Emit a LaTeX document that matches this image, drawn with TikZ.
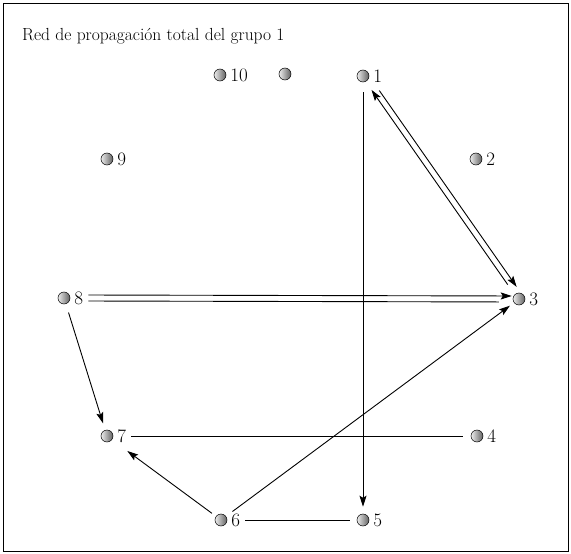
\documentclass[tikz,border=0pt]{standalone}
\usetikzlibrary{arrows.meta,positioning,calc}

\begin{document}
\begin{tikzpicture}[
        x=1pt, y=-1pt,
        >={Stealth[length=11pt,width=7pt,inset=2pt]},
        bola/.style={circle, draw=black, line width=0.5pt, left color=gray!15, right color=gray!75!black, minimum size=12pt, inner sep=0pt},
        etiq/.style={font=\fontsize{19}{19}\selectfont, inner sep=0pt, right=4pt of #1},
        arco/.style={line width=0.9pt}
    ]
        \useasboundingbox (0,0) rectangle (571,554);
        \draw[line width=0.8pt] (3,3) rectangle (568,551);
        \node[anchor=base west, inner sep=0pt, font=\fontsize{17.5}{17.5}\selectfont] (titulo) at (22,40) {Red de propagación total del grupo 1};
        % Nodos de la red
        \node[bola] (n10) at (220,75) {}; \node[etiq=n10] (l10) {10};
        \node[bola] (n0) at (285,74) {};
        \node[bola] (n1) at (363,76) {}; \node[etiq=n1] (l1) {1};
        \node[bola] (n2) at (476,159) {}; \node[etiq=n2] (l2) {2};
        \node[bola] (n9) at (107,159) {}; \node[etiq=n9] (l9) {9};
        \node[bola] (n8) at (64,298) {}; \node[etiq=n8] (l8) {8};
        \node[bola] (n3) at (519,299) {}; \node[etiq=n3] (l3) {3};
        \node[bola] (n7) at (107,436) {}; \node[etiq=n7] (l7) {7};
        \node[bola] (n4) at (477,436) {}; \node[etiq=n4] (l4) {4};
        \node[bola] (n6) at (221,520) {}; \node[etiq=n6] (l6) {6};
        \node[bola] (n5) at (363,520) {}; \node[etiq=n5] (l5) {5};
        % Arcos
        \draw[arco, ->, shorten <=10pt, shorten >=7pt] (n1) -- (n5);
        \draw[arco, ->, shorten <=15pt, shorten >=5pt, transform canvas={shift={(4.1pt,2.9pt)}}] (n1) -- (n3);
        \draw[arco, ->, shorten <=12pt, shorten >=10pt, transform canvas={shift={(-0.8pt,-0.6pt)}}] (n3) -- (n1);
        \draw[arco, ->, shorten <=5pt, shorten >=1pt, transform canvas={yshift=3pt}] (l8.east) -- (n3);
        \draw[arco, shorten <=5pt, shorten >=14pt, transform canvas={yshift=-3pt}] (l8.east) -- (n3);
        \draw[arco, ->, shorten <=9pt, shorten >=7pt] (n8) -- (n7);
        \draw[arco, shorten <=5pt, shorten >=8pt] (l7.east) -- (n4);
        \draw[arco, ->, shorten <=5pt, shorten >=19pt] (n6) -- (n7);
        \draw[arco, ->, shorten <=8pt, shorten >=5pt] (n6) -- (n3);
        \draw[arco, shorten <=5pt, shorten >=7pt] (l6.east) -- (n5);
    \end{tikzpicture}
\end{document}
